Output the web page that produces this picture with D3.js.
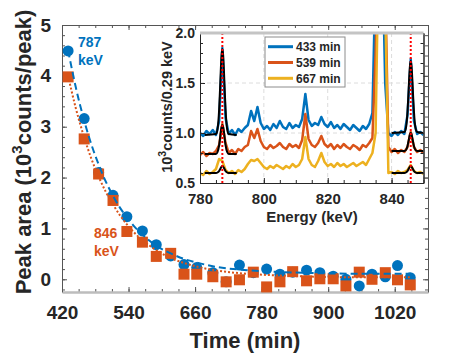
<!DOCTYPE html>
<html>
<head>
<meta charset="utf-8">
<script src="https://cdn.jsdelivr.net/npm/d3@7/dist/d3.min.js"></script>
<style>
body { margin: 0; background: #fff; }
text { font-family: "Liberation Sans", Arial, sans-serif; font-weight: bold; fill: #262626; }
</style>
</head>
<body>
<div id="chart"></div>
<script>
// ---- main panel: peak areas vs time ----
var times   = [431, 460, 486, 512, 537, 565, 590, 616, 640, 663, 692, 716, 740, 765, 789, 813, 836, 861, 885, 909, 932, 956, 979, 1003, 1025, 1048];
var area787 = [4.49, 3.16, 2.10, 1.65, 1.23, 0.95, 0.68, 0.46, 0.29, 0.23, 0.13, -0.05, 0.28, 0.13, 0.20, 0.10, 0.14, 0.18, 0.13, 0.06, 0.00, -0.13, 0.10, 0.05, 0.27, 0.03];
var area846 = [3.98, 2.76, 2.07, 1.55, 0.94, 0.73, 0.45, 0.51, 0.10, 0.10, 0.05, -0.05, -0.01, 0.14, -0.15, -0.05, 0.15, -0.03, 0.01, 0.01, -0.13, 0.14, 0.00, 0.13, -0.01, -0.11];

// decay fits
var fitTimes = [431, 445, 460, 473, 486, 499, 512, 525, 537, 551, 565, 590, 616, 640, 663, 700, 740, 800, 880, 960, 1048];
var fit787   = [4.50, 3.77, 3.12, 2.65, 2.26, 1.92, 1.64, 1.40, 1.22, 1.03, 0.88, 0.66, 0.51, 0.40, 0.33, 0.24, 0.19, 0.15, 0.12, 0.11, 0.11];
var fit846   = [4.00, 3.36, 2.79, 2.37, 2.02, 1.72, 1.47, 1.25, 1.08, 0.91, 0.77, 0.57, 0.42, 0.32, 0.25, 0.17, 0.12, 0.08, 0.05, 0.04, 0.04];

var mainXTicks = [420, 540, 660, 780, 900, 1020];
var mainYTicks = [0, 1, 2, 3, 4, 5];

// ---- inset: spectra ----
var energies = d3.range(780, 851, 1);
var spec433 = [1.00,0.97,1.02,0.99,1.03,0.98,1.12,1.85,1.15,0.99,
               1.03,0.98,1.04,1.01,1.05,1.08,1.22,1.12,1.26,1.10,
               1.04,1.07,1.03,1.09,1.05,1.12,1.06,1.04,1.10,1.05,
               1.08,1.06,1.14,1.39,1.13,1.07,1.10,1.08,1.16,1.09,
               1.06,1.11,1.05,1.08,1.04,1.09,1.06,1.03,1.08,1.05,
               1.02,1.07,1.04,1.09,1.20,2.60,3.50,3.00,1.50,1.00,
               0.97,1.01,0.98,1.02,0.99,1.18,1.74,1.12,0.99,1.01,0.98];
var spec539 = [0.78,0.81,0.77,0.80,0.79,0.82,0.88,1.09,0.90,0.80,
               0.83,0.79,0.84,0.82,0.86,0.88,1.02,0.95,1.04,0.92,
               0.86,0.84,0.88,0.85,0.87,0.90,0.86,0.84,0.89,0.86,
               0.88,0.85,0.93,1.19,0.94,0.88,0.86,0.90,0.97,0.89,
               0.86,0.89,0.84,0.88,0.85,0.89,0.86,0.84,0.88,0.86,
               0.83,0.88,0.86,0.90,0.95,1.80,3.00,3.20,2.50,0.86,
               0.81,0.84,0.80,0.83,0.81,0.86,1.01,0.86,0.81,0.83,0.80];
var spec667 = [0.60,0.58,0.62,0.59,0.61,0.64,0.74,0.72,0.63,0.60,
               0.62,0.59,0.63,0.61,0.64,0.69,0.73,0.72,0.74,0.70,
               0.66,0.64,0.67,0.65,0.68,0.66,0.64,0.67,0.65,0.69,
               0.66,0.68,0.74,0.96,0.74,0.68,0.66,0.72,0.80,0.71,
               0.67,0.69,0.66,0.70,0.67,0.69,0.66,0.68,0.70,0.67,
               0.69,0.71,0.68,0.74,0.80,1.00,3.00,3.20,2.30,0.60,
               0.61,0.59,0.62,0.60,0.61,0.63,0.68,0.62,0.60,0.61,0.59];
var specLabels = ["433 min", "539 min", "667 min"];
var specColors = ["#0072BD", "#D95319", "#EDB120"];

// gaussian peak fits (black)
var fitE787 = [781.5, 785, 785.5, 786, 786.25, 786.5, 786.75, 787, 787.25, 787.5, 787.75, 788, 788.5, 789, 791.5];
var pk433a  = [0.98, 0.99, 1.04, 1.24, 1.42, 1.62, 1.78, 1.84, 1.78, 1.62, 1.42, 1.24, 1.04, 0.99, 0.98];
var pk539a  = [0.79, 0.79, 0.81, 0.88, 0.94, 1.01, 1.06, 1.08, 1.06, 1.01, 0.94, 0.88, 0.81, 0.79, 0.79];
var pk667a  = [0.60, 0.60, 0.605, 0.62, 0.635, 0.65, 0.665, 0.67, 0.665, 0.65, 0.635, 0.62, 0.605, 0.60, 0.60];
var fitE846 = [840, 844, 844.5, 845, 845.25, 845.5, 845.75, 846, 846.25, 846.5, 846.75, 847, 847.5, 848, 850];
var pk433b  = [1.00, 1.01, 1.05, 1.22, 1.37, 1.54, 1.67, 1.72, 1.67, 1.54, 1.37, 1.22, 1.05, 1.01, 1.00];
var pk539b  = [0.82, 0.82, 0.83, 0.87, 0.91, 0.95, 0.99, 1.00, 0.99, 0.95, 0.91, 0.87, 0.83, 0.82, 0.82];
var pk667b  = [0.60, 0.60, 0.605, 0.62, 0.635, 0.65, 0.665, 0.67, 0.665, 0.65, 0.635, 0.62, 0.605, 0.60, 0.60];

var peakLines = [787, 846];
var insetXTicks = [780, 800, 820, 840];
var insetYTicks = [0.5, 1.0, 1.5, 2.0];

var svgWidth = 472, svgHeight = 354;
var svg = d3.select("#chart").append("svg")
  .attr("width", svgWidth)
  .attr("height", svgHeight);

var blue = "#0072BD", orange = "#D95319";

// main scales
var x = d3.scaleLinear().domain([420, 1080]).range([62, 428]);
var y = d3.scaleLinear().domain([-0.25, 5]).range([292, 25]);

function styleAxis(g, color) {
  g.select(".domain").attr("stroke", color);
  g.selectAll(".tick line").attr("stroke", color);
}
function minorOnly(g) {
  g.select(".domain").remove();
  g.selectAll("line").attr("stroke", "#555");
}

// main axes: minor ticks first
svg.append("g").attr("transform", "translate(0,292)")
  .call(d3.axisBottom(x).tickValues(d3.range(420, 1081, 30)).tickSize(-3).tickSizeOuter(0).tickFormat(""))
  .call(minorOnly);
svg.append("g").attr("transform", "translate(0,25)")
  .call(d3.axisTop(x).tickValues(d3.range(420, 1081, 30)).tickSize(-3).tickSizeOuter(0).tickFormat(""))
  .call(minorOnly);
svg.append("g").attr("transform", "translate(62,0)")
  .call(d3.axisLeft(y).tickValues(d3.range(-0.2, 5.01, 0.2)).tickSize(-3).tickSizeOuter(0).tickFormat(""))
  .call(minorOnly);
svg.append("g").attr("transform", "translate(428,0)")
  .call(d3.axisRight(y).tickValues(d3.range(-0.2, 5.01, 0.2)).tickSize(-3).tickSizeOuter(0).tickFormat(""))
  .call(minorOnly);

// main axes: majors with labels
var xAxisG = svg.append("g").attr("transform", "translate(0,292)")
  .call(d3.axisBottom(x).tickValues(mainXTicks).tickSize(-5).tickSizeOuter(0).tickPadding(14).tickFormat(d3.format("d")));
xAxisG.select(".domain").attr("stroke", "#bdbdbd").attr("stroke-width", 2.5);
xAxisG.selectAll(".tick line").attr("stroke", "#555");
xAxisG.selectAll("text").attr("font-size", 19).attr("fill", "#262626");

var yAxisG = svg.append("g").attr("transform", "translate(62,0)")
  .call(d3.axisLeft(y).tickValues(mainYTicks).tickSize(-5).tickSizeOuter(0).tickPadding(11).tickFormat(d3.format("d")));
styleAxis(yAxisG, "#555");
yAxisG.selectAll("text").attr("font-size", 19).attr("fill", "#262626");

svg.append("g").attr("transform", "translate(0,25)")
  .call(d3.axisTop(x).tickValues(mainXTicks).tickSize(-5).tickSizeOuter(0).tickFormat(""))
  .call(g => styleAxis(g, "#555"));
svg.append("g").attr("transform", "translate(428,0)")
  .call(d3.axisRight(y).tickValues(mainYTicks).tickSize(-5).tickSizeOuter(0).tickFormat(""))
  .call(g => styleAxis(g, "#555"));

// markers
svg.append("g").selectAll("circle")
  .data(times)
  .enter()
  .append("circle")
  .attr("cx", d => x(d))
  .attr("cy", (d, i) => y(area787[i]))
  .attr("r", 5.5)
  .attr("fill", blue);

svg.append("g").selectAll("rect")
  .data(times)
  .enter()
  .append("rect")
  .attr("x", d => x(d) - 5.5)
  .attr("y", (d, i) => y(area846[i]) - 5.5)
  .attr("width", 11)
  .attr("height", 11)
  .attr("fill", orange);

// fit curves
var fitLine = d3.line()
  .x((d, i) => x(fitTimes[i]))
  .y(d => y(d))
  .curve(d3.curveMonotoneX);

svg.append("path")
  .attr("d", fitLine(fit787))
  .attr("fill", "none")
  .attr("stroke", blue)
  .attr("stroke-width", 2)
  .attr("stroke-dasharray", "7,4");

svg.append("path")
  .attr("d", fitLine(fit846))
  .attr("fill", "none")
  .attr("stroke", orange)
  .attr("stroke-width", 2)
  .attr("stroke-dasharray", "2,2");

// peak labels
svg.append("text").attr("x", 78).attr("y", 47).attr("font-size", 14).style("fill", blue).text("787");
svg.append("text").attr("x", 78).attr("y", 65).attr("font-size", 14).style("fill", blue).text("keV");
svg.append("text").attr("x", 94).attr("y", 238).attr("font-size", 14).style("fill", orange).text("846");
svg.append("text").attr("x", 94).attr("y", 256).attr("font-size", 14).style("fill", orange).text("keV");

// axis titles
svg.append("text")
  .attr("x", 245).attr("y", 348)
  .attr("text-anchor", "middle")
  .attr("font-size", 22)
  .text("Time (min)");

var yTitle = svg.append("text")
  .attr("transform", "translate(31,152) rotate(-90)")
  .attr("text-anchor", "middle")
  .attr("font-size", 22);
yTitle.append("tspan").text("Peak area (10");
yTitle.append("tspan").attr("font-size", 15).attr("dy", -9).text("3");
yTitle.append("tspan").attr("dy", 9).text("counts/peak)");

// ---- inset ----
var ix = d3.scaleLinear().domain([780, 850]).range([200, 423.5]);
var iy = d3.scaleLinear().domain([0.5, 2.0]).range([183, 33]);

svg.append("rect")
  .attr("x", 200).attr("y", 33)
  .attr("width", 223.5).attr("height", 150)
  .attr("fill", "#fff");

svg.append("clipPath").attr("id", "insetClip")
  .append("rect")
  .attr("x", 200).attr("y", 33)
  .attr("width", 223.5).attr("height", 150);

// grid
svg.append("g").selectAll("line")
  .data(insetXTicks.slice(1))
  .enter().append("line")
  .attr("x1", d => ix(d)).attr("x2", d => ix(d))
  .attr("y1", 33).attr("y2", 183)
  .attr("stroke", "#dcdcdc").attr("stroke-dasharray", "4,3");
svg.append("g").selectAll("line")
  .data(insetYTicks.slice(1, 3))
  .enter().append("line")
  .attr("x1", 200).attr("x2", 423.5)
  .attr("y1", d => iy(d)).attr("y2", d => iy(d))
  .attr("stroke", "#dcdcdc").attr("stroke-dasharray", "4,3");

var plotArea = svg.append("g").attr("clip-path", "url(#insetClip)");

var specLine = d3.line()
  .x((d, i) => ix(energies[i]))
  .y(d => iy(d));

[spec433, spec539, spec667].forEach(function(s, k) {
  plotArea.append("path")
    .attr("d", specLine(s))
    .attr("fill", "none")
    .attr("stroke", specColors[k])
    .attr("stroke-width", 2.5)
    .attr("stroke-linejoin", "round");
});

var pkLineA = d3.line().x((d, i) => ix(fitE787[i])).y(d => iy(d)).curve(d3.curveMonotoneX);
var pkLineB = d3.line().x((d, i) => ix(fitE846[i])).y(d => iy(d)).curve(d3.curveMonotoneX);
[pk433a, pk539a, pk667a].forEach(function(s) {
  plotArea.append("path").attr("d", pkLineA(s))
    .attr("fill", "none").attr("stroke", "#000").attr("stroke-width", 2);
});
[pk433b, pk539b, pk667b].forEach(function(s) {
  plotArea.append("path").attr("d", pkLineB(s))
    .attr("fill", "none").attr("stroke", "#000").attr("stroke-width", 2);
});

// peak markers
plotArea.selectAll("line.peak")
  .data(peakLines)
  .enter().append("line")
  .attr("class", "peak")
  .attr("x1", d => ix(d)).attr("x2", d => ix(d))
  .attr("y1", 33).attr("y2", 183)
  .attr("stroke", "#ff0000")
  .attr("stroke-width", 2)
  .attr("stroke-dasharray", "2,2");

// inset axes
svg.append("g").attr("transform", "translate(0,183)")
  .call(d3.axisBottom(ix).tickValues(d3.range(780, 851, 5)).tickSize(-3).tickSizeOuter(0).tickFormat(""))
  .call(g => styleAxis(g, "#262626"));
svg.append("g").attr("transform", "translate(200,0)")
  .call(d3.axisLeft(iy).tickValues(d3.range(0.5, 2.01, 0.1)).tickSize(-3).tickSizeOuter(0).tickFormat(""))
  .call(g => styleAxis(g, "#262626"));
svg.append("g").attr("transform", "translate(423.5,0)")
  .call(d3.axisRight(iy).tickValues(d3.range(0.5, 2.01, 0.1)).tickSize(-3).tickSizeOuter(0).tickFormat(""))
  .call(g => styleAxis(g, "#262626"));

var ixAxis = svg.append("g").attr("transform", "translate(0,183)")
  .call(d3.axisBottom(ix).tickValues(insetXTicks).tickSize(-5).tickSizeOuter(0).tickPadding(10).tickFormat(d3.format("d")));
styleAxis(ixAxis, "#262626");
ixAxis.selectAll("text").attr("font-size", 15).attr("fill", "#262626");

var iyAxis = svg.append("g").attr("transform", "translate(200,0)")
  .call(d3.axisLeft(iy).tickValues(insetYTicks).tickSize(-5).tickSizeOuter(0).tickPadding(5).tickFormat(d3.format(".1f")));
styleAxis(iyAxis, "#262626");
iyAxis.selectAll("text").attr("font-size", 14).attr("fill", "#262626");

svg.append("g").attr("transform", "translate(423.5,0)")
  .call(d3.axisRight(iy).tickValues(insetYTicks).tickSize(-5).tickSizeOuter(0).tickFormat(""))
  .call(g => styleAxis(g, "#262626"));

// thick gray top edge of inset
svg.append("line")
  .attr("x1", 200).attr("x2", 423.5)
  .attr("y1", 33).attr("y2", 33)
  .attr("stroke", "#c4c4c4").attr("stroke-width", 3);

// inset titles
svg.append("text")
  .attr("x", 312).attr("y", 222)
  .attr("text-anchor", "middle")
  .attr("font-size", 15)
  .text("Energy (keV)");

var iyTitle = svg.append("text")
  .attr("transform", "translate(172,107) rotate(-90)")
  .attr("text-anchor", "middle")
  .attr("font-size", 14.5);
iyTitle.append("tspan").text("10");
iyTitle.append("tspan").attr("font-size", 10.5).attr("dy", -6).text("3");
iyTitle.append("tspan").attr("dy", 6).text("counts/0.29 keV");

// legend
var legend = svg.append("g");
legend.append("rect")
  .attr("x", 265).attr("y", 37)
  .attr("width", 80).attr("height", 50)
  .attr("fill", "#fff")
  .attr("stroke", "#8c8c8c");
var legendRows = [46.7, 62.5, 78.3];
specLabels.forEach(function(lbl, k) {
  legend.append("line")
    .attr("x1", 268).attr("x2", 293)
    .attr("y1", legendRows[k]).attr("y2", legendRows[k])
    .attr("stroke", specColors[k]).attr("stroke-width", 3);
  legend.append("text")
    .attr("x", 296).attr("y", legendRows[k])
    .attr("dy", "0.36em")
    .attr("font-size", 12)
    .text(lbl);
});
</script>
</body>
</html>
